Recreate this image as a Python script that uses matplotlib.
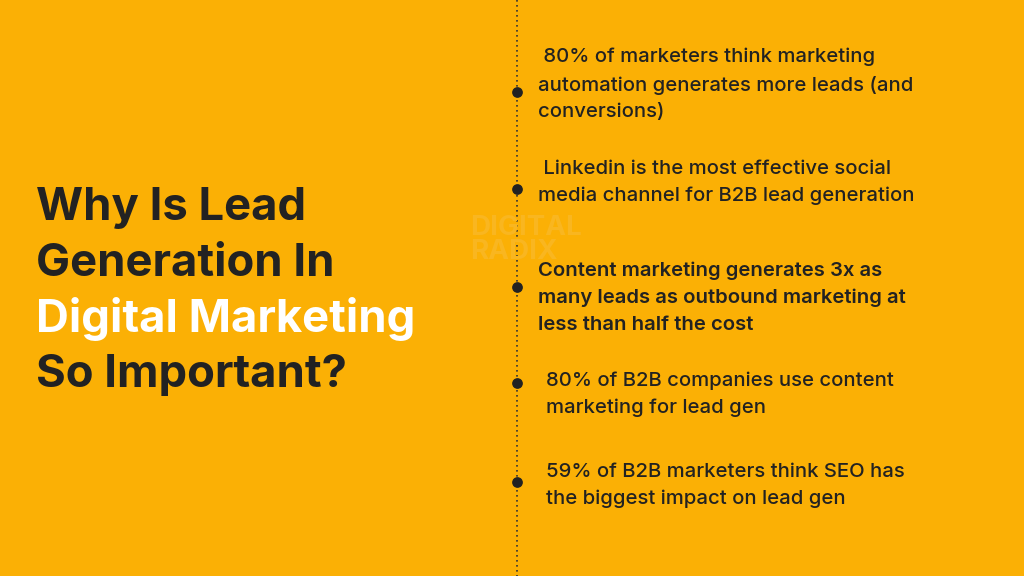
import matplotlib.pyplot as plt

# content
title_lines = ["Why Is Lead", "Generation In", "Digital Marketing", "So Important?"]
title_colors = ["#222222", "#222222", "#ffffff", "#222222"]
facts = [
    " 80% of marketers think marketing\nautomation generates more leads (and\nconversions)",
    " Linkedin is the most effective social\nmedia channel for B2B lead generation",
    "Content marketing generates 3x as\nmany leads as outbound marketing at\nless than half the cost",
    "80% of B2B companies use content\nmarketing for lead gen",
    "59% of B2B marketers think SEO has\nthe biggest impact on lead gen",
]
fact_bold = [False, False, True, False, False]
dot_y = [92, 189, 287, 383, 482]
text_mid = [55, 167, 268, 378, 470]   # centre of first line
text_x = [538, 538, 538, 546, 546]

bg = "#fbb005"
fig = plt.figure(figsize=(10.24, 5.76), dpi=100, facecolor=bg)
ax = fig.add_axes([0, 0, 1, 1])
ax.set_facecolor(bg)
ax.set_xlim(0, 1024)
ax.set_ylim(576, 0)
ax.axis("off")

# faint watermark
ax.text(470, 240, "DIGITAL\nRADIX", fontsize=20, fontweight="bold", color="#f9b620",
        family="Inter", va="center", linespacing=0.9)

# timeline
ax.plot([517, 517], [0, 576], color="#333333", lw=1.2, ls=(0, (1, 2)))
ax.scatter([517] * len(dot_y), dot_y, s=45, color="#222222", zorder=3)

for i, (line, c) in enumerate(zip(title_lines, title_colors)):
    ax.text(36, 208 + i * 55.5, line, fontsize=32.7, fontweight="bold", color=c,
            family="Inter", va="center")

for t, y, x, b in zip(facts, text_mid, text_x, fact_bold):
    ax.text(x, y - 7, t, fontsize=14.6, color="#222222", family="Inter",
            fontweight="semibold" if b else "medium", va="top", linespacing=1.62)

fig.savefig("out.png", dpi=100, facecolor=bg)
